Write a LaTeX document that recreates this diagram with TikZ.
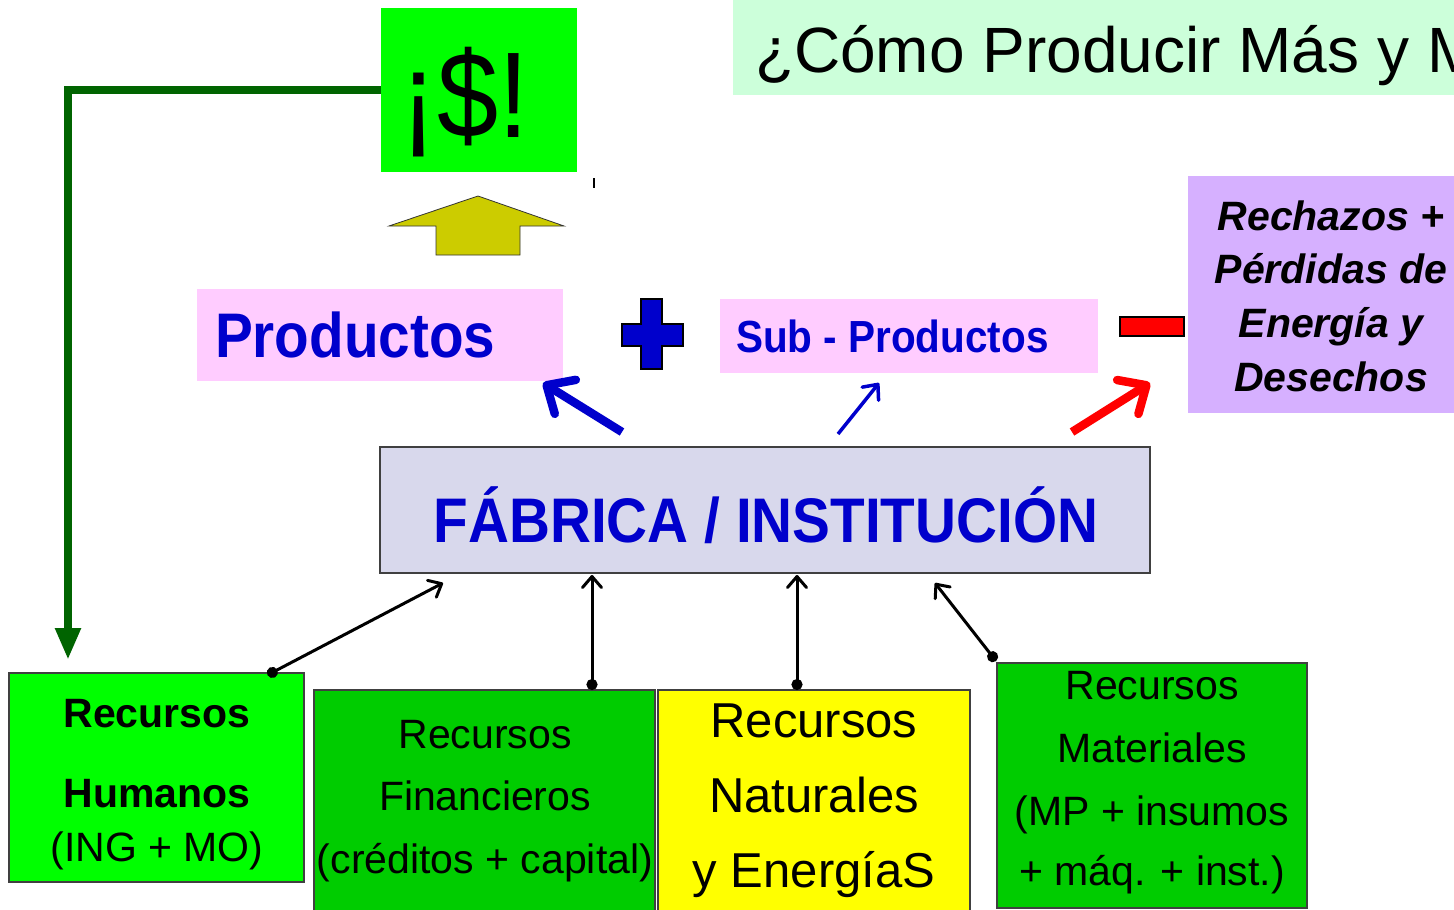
\documentclass[tikz,border=0pt]{standalone}
\usepackage{fontspec}
\setmainfont{Liberation Sans}
\newfontfamily\narrowsans[FakeStretch=0.9]{Liberation Sans}
\usetikzlibrary{arrows.meta}
\definecolor{titlebg}{RGB}{204,255,218}
\definecolor{brightgreen}{RGB}{0,255,0}
\definecolor{midgreen}{RGB}{0,204,0}
\definecolor{darkline}{RGB}{0,100,0}
\definecolor{olive}{RGB}{204,204,0}
\definecolor{pinkbg}{RGB}{255,204,255}
\definecolor{deepblue}{RGB}{0,0,204}
\definecolor{lilac}{RGB}{214,176,255}
\definecolor{fabbg}{RGB}{216,216,236}
\definecolor{pureyellow}{RGB}{255,255,0}
\definecolor{purered}{RGB}{255,0,0}
\tikzset{
  plainbox/.style={inner sep=0pt, outer sep=0pt, anchor=north west},
  resbox/.style={plainbox, draw=black!75, line width=1.6pt},
  txt/.style={inner sep=0pt, outer sep=0pt, anchor=base},
  conn/.style={draw=black, line width=3pt, {Circle[length=11pt]}-{Straight Barb[length=11pt,width=19pt,round]}},
  fatarrow/.style={line width=8.5pt, -{Straight Barb[length=22pt,width=40pt,round]}},
  thinarrow/.style={line width=3.5pt, -{Straight Barb[length=12pt,width=21pt,round]}},
  feedback/.style={draw=darkline, line width=8.5pt, -{Triangle[length=32pt,width=24pt]}},
}
\newcommand{\fs}[2]{\fontsize{#1}{#2}\selectfont}
\begin{document}
\begin{tikzpicture}[x=1pt,y=-1pt]
\useasboundingbox (0,0) rectangle (1454,910);
\fill[white] (0,0) rectangle (1454,910);

% title
\node[plainbox, fill=titlebg, minimum width=730pt, minimum height=95pt] (title) at (733,0) {};
\node[txt, anchor=base west] (titletext) at (755,72) {\fs{64}{70}¿Cómo Producir Más y M};

% money box
\node[plainbox, fill=brightgreen, minimum width=196pt, minimum height=164pt] (dol) at (381,8) {};
\node[txt] (doltext) at (465,137) {\narrowsans\fs{122}{124}¡\$!};

% feedback line
\node[resbox, fill=brightgreen, minimum width=295pt, minimum height=209pt] (hum) at (9,673) {};
\draw[feedback] (dol.west) -| ([xshift=59pt,yshift=13pt]hum.north west);

% yellow block arrow
\filldraw[fill=olive, draw=black!80, line width=0.8pt]
  (436,255) -- (436,226) -- (389,226) -- (478,196) -- (564,226) -- (520,226) -- (520,255) -- cycle;
\draw[black, line width=1.4pt] (594,178) -- (594,188);

% products
\node[plainbox, fill=pinkbg, minimum width=366pt, minimum height=92pt] (prod) at (197,289) {};
\node[txt, anchor=base west] (prodtext) at (215,357) {\narrowsans\fs{63}{66}\bfseries\color{deepblue}Productos};

% plus
\filldraw[fill=deepblue, draw=black, line width=1.2pt]
  (641,299) -- (662,299) -- (662,324) -- (683,324) -- (683,346) -- (662,346) -- (662,369)
  -- (641,369) -- (641,346) -- (622,346) -- (622,324) -- (641,324) -- cycle;

% sub-products
\node[plainbox, fill=pinkbg, minimum width=378pt, minimum height=74pt] (sub) at (720,299) {};
\node[txt, anchor=base west] (subtext) at (736,352) {\narrowsans\fs{45}{48}\bfseries\color{deepblue}Sub - Productos};

% minus
\filldraw[fill=purered, draw=black, line width=1.2pt] (1120,317) rectangle (1184,336);

% losses
\node[plainbox, fill=lilac, minimum width=280pt, minimum height=237pt] (rech) at (1188,176) {};
\node[txt] (rech1) at (1331,230) {\fs{41}{50}\bfseries\itshape Rechazos +};
\node[txt] (rech2) at (1331,283) {\fs{41}{50}\bfseries\itshape Pérdidas de};
\node[txt] (rech3) at (1331,337) {\fs{41}{50}\bfseries\itshape Energía y};
\node[txt] (rech4) at (1331,391) {\fs{41}{50}\bfseries\itshape Desechos};

% factory
\node[plainbox, fill=fabbg, draw=black!75, line width=1.8pt, minimum width=770pt, minimum height=126pt] (fab) at (380,447) {};
\node[txt] (fabtext) at (766,542) {\narrowsans\fs{63}{66}\bfseries\color{deepblue}FÁBRICA / INSTITUCIÓN};

% output arrows
\draw[fatarrow, deepblue] ([xshift=-143pt,yshift=15pt]fab.north) -- ([xshift=-20pt,yshift=-2pt]prod.south east);
\draw[thinarrow, deepblue] ([xshift=73pt,yshift=13pt]fab.north) -- ([xshift=-30pt,yshift=-10pt]sub.south);
\draw[fatarrow, purered] ([xshift=307pt,yshift=15pt]fab.north) -- ([xshift=-38pt,yshift=30pt]rech.south west);

% resources
\node[txt] (hum1) at (157,727) {\fs{41}{48}\bfseries Recursos};
\node[txt] (hum2) at (157,807) {\fs{41}{48}\bfseries Humanos};
\node[txt] (hum3) at (157,861) {\fs{41}{48}(ING + MO)};

\node[resbox, fill=midgreen, minimum width=341pt, minimum height=225pt] (fin) at (314,690) {};
\node[txt] (fin1) at (485,748) {\fs{41}{48}Recursos};
\node[txt] (fin2) at (485,810) {\fs{41}{48}Financieros};
\node[txt] (fin3) at (485,873) {\fs{41}{48}(créditos + capital)};

\node[resbox, fill=pureyellow, minimum width=312pt, minimum height=225pt] (nat) at (658,690) {};
\node[txt] (nat1) at (814,737) {\fs{49}{56}Recursos};
\node[txt] (nat2) at (814,812) {\fs{49}{56}Naturales};
\node[txt] (nat3) at (814,887) {\fs{49}{56}y EnergíaS};

\node[resbox, fill=midgreen, minimum width=310pt, minimum height=245pt] (mat) at (997,663) {};
\node[txt] (mat1) at (1152,699) {\fs{41}{48}Recursos};
\node[txt] (mat2) at (1152,762) {\fs{41}{48}Materiales};
\node[txt] (mat3) at (1152,825) {\fs{41}{48}(MP + insumos};
\node[txt] (mat4) at (1152,885) {\fs{41}{48}+ máq. + inst.)};

% input connectors
\draw[conn] ([xshift=111pt,yshift=-2pt]hum.north) -- ([xshift=-322pt,yshift=-10pt]fab.south);
\draw[conn] ([xshift=107.5pt]fin.north) -- ([xshift=-173pt,yshift=-2pt]fab.south);
\draw[conn] ([xshift=-17pt]nat.north) -- ([xshift=32pt,yshift=-2pt]fab.south);
\draw[conn] ([xshift=-1pt,yshift=2pt]mat.north west) -- ([xshift=170pt,yshift=-10pt]fab.south);
\end{tikzpicture}
\end{document}
